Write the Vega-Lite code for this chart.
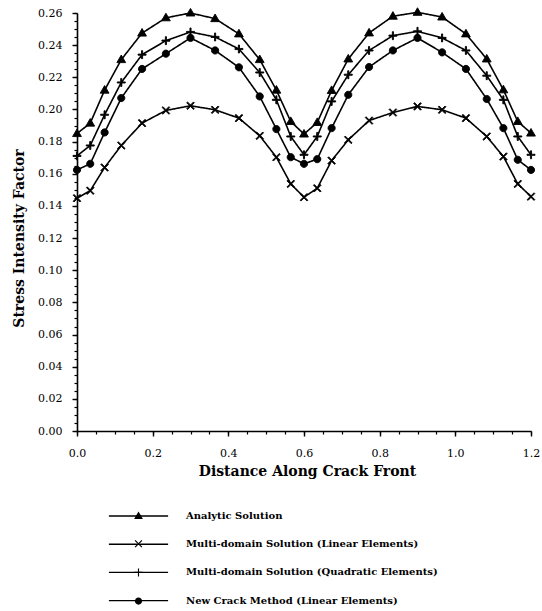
{
  "$schema": "https://vega.github.io/schema/vega-lite/v6.json",
  "autosize": {"type": "none"},
  "padding": {"left": 77, "top": 13, "right": 11, "bottom": 180},
  "width": 454,
  "height": 418,
  "background": "white",
  "config": {
    "view": {"stroke": null},
    "axis": {"grid": false, "domainColor": "black", "tickColor": "black", "labelColor": "black", "titleColor": "black"}
  },
  "data": {"values": [
    {"s": "Analytic Solution", "x": 0, "y": 0.185},
    {"s": "Analytic Solution", "x": 0.035, "y": 0.1915},
    {"s": "Analytic Solution", "x": 0.073, "y": 0.212},
    {"s": "Analytic Solution", "x": 0.117, "y": 0.231},
    {"s": "Analytic Solution", "x": 0.172, "y": 0.2475},
    {"s": "Analytic Solution", "x": 0.235, "y": 0.257},
    {"s": "Analytic Solution", "x": 0.3, "y": 0.26},
    {"s": "Analytic Solution", "x": 0.365, "y": 0.2565},
    {"s": "Analytic Solution", "x": 0.428, "y": 0.247},
    {"s": "Analytic Solution", "x": 0.483, "y": 0.231},
    {"s": "Analytic Solution", "x": 0.527, "y": 0.212},
    {"s": "Analytic Solution", "x": 0.565, "y": 0.1925},
    {"s": "Analytic Solution", "x": 0.6, "y": 0.1847},
    {"s": "Analytic Solution", "x": 0.635, "y": 0.1919},
    {"s": "Analytic Solution", "x": 0.673, "y": 0.2118},
    {"s": "Analytic Solution", "x": 0.717, "y": 0.2314},
    {"s": "Analytic Solution", "x": 0.772, "y": 0.2476},
    {"s": "Analytic Solution", "x": 0.835, "y": 0.258},
    {"s": "Analytic Solution", "x": 0.9, "y": 0.2604},
    {"s": "Analytic Solution", "x": 0.965, "y": 0.2575},
    {"s": "Analytic Solution", "x": 1.028, "y": 0.247},
    {"s": "Analytic Solution", "x": 1.083, "y": 0.2314},
    {"s": "Analytic Solution", "x": 1.127, "y": 0.2122},
    {"s": "Analytic Solution", "x": 1.165, "y": 0.1925},
    {"s": "Analytic Solution", "x": 1.2, "y": 0.1853},
    {"s": "Multi-domain Solution (Linear Elements)", "x": 0, "y": 0.1448},
    {"s": "Multi-domain Solution (Linear Elements)", "x": 0.035, "y": 0.1495},
    {"s": "Multi-domain Solution (Linear Elements)", "x": 0.073, "y": 0.1639},
    {"s": "Multi-domain Solution (Linear Elements)", "x": 0.117, "y": 0.1776},
    {"s": "Multi-domain Solution (Linear Elements)", "x": 0.172, "y": 0.1915},
    {"s": "Multi-domain Solution (Linear Elements)", "x": 0.235, "y": 0.1994},
    {"s": "Multi-domain Solution (Linear Elements)", "x": 0.3, "y": 0.2023},
    {"s": "Multi-domain Solution (Linear Elements)", "x": 0.365, "y": 0.1998},
    {"s": "Multi-domain Solution (Linear Elements)", "x": 0.428, "y": 0.1946},
    {"s": "Multi-domain Solution (Linear Elements)", "x": 0.483, "y": 0.1836},
    {"s": "Multi-domain Solution (Linear Elements)", "x": 0.527, "y": 0.1703},
    {"s": "Multi-domain Solution (Linear Elements)", "x": 0.565, "y": 0.1537},
    {"s": "Multi-domain Solution (Linear Elements)", "x": 0.6, "y": 0.1454},
    {"s": "Multi-domain Solution (Linear Elements)", "x": 0.635, "y": 0.151},
    {"s": "Multi-domain Solution (Linear Elements)", "x": 0.673, "y": 0.1682},
    {"s": "Multi-domain Solution (Linear Elements)", "x": 0.717, "y": 0.1811},
    {"s": "Multi-domain Solution (Linear Elements)", "x": 0.772, "y": 0.1931},
    {"s": "Multi-domain Solution (Linear Elements)", "x": 0.835, "y": 0.1981},
    {"s": "Multi-domain Solution (Linear Elements)", "x": 0.9, "y": 0.2019},
    {"s": "Multi-domain Solution (Linear Elements)", "x": 0.965, "y": 0.1998},
    {"s": "Multi-domain Solution (Linear Elements)", "x": 1.028, "y": 0.1946},
    {"s": "Multi-domain Solution (Linear Elements)", "x": 1.083, "y": 0.1832},
    {"s": "Multi-domain Solution (Linear Elements)", "x": 1.127, "y": 0.1707},
    {"s": "Multi-domain Solution (Linear Elements)", "x": 1.165, "y": 0.1537},
    {"s": "Multi-domain Solution (Linear Elements)", "x": 1.2, "y": 0.1458},
    {"s": "Multi-domain Solution (Quadratic Elements)", "x": 0, "y": 0.1711},
    {"s": "Multi-domain Solution (Quadratic Elements)", "x": 0.035, "y": 0.1776},
    {"s": "Multi-domain Solution (Quadratic Elements)", "x": 0.073, "y": 0.1967},
    {"s": "Multi-domain Solution (Quadratic Elements)", "x": 0.117, "y": 0.2168},
    {"s": "Multi-domain Solution (Quadratic Elements)", "x": 0.172, "y": 0.2341},
    {"s": "Multi-domain Solution (Quadratic Elements)", "x": 0.235, "y": 0.2428},
    {"s": "Multi-domain Solution (Quadratic Elements)", "x": 0.3, "y": 0.2482},
    {"s": "Multi-domain Solution (Quadratic Elements)", "x": 0.365, "y": 0.2451},
    {"s": "Multi-domain Solution (Quadratic Elements)", "x": 0.428, "y": 0.2376},
    {"s": "Multi-domain Solution (Quadratic Elements)", "x": 0.483, "y": 0.223},
    {"s": "Multi-domain Solution (Quadratic Elements)", "x": 0.527, "y": 0.206},
    {"s": "Multi-domain Solution (Quadratic Elements)", "x": 0.565, "y": 0.1832},
    {"s": "Multi-domain Solution (Quadratic Elements)", "x": 0.6, "y": 0.1718},
    {"s": "Multi-domain Solution (Quadratic Elements)", "x": 0.635, "y": 0.1832},
    {"s": "Multi-domain Solution (Quadratic Elements)", "x": 0.673, "y": 0.205},
    {"s": "Multi-domain Solution (Quadratic Elements)", "x": 0.717, "y": 0.2216},
    {"s": "Multi-domain Solution (Quadratic Elements)", "x": 0.772, "y": 0.2367},
    {"s": "Multi-domain Solution (Quadratic Elements)", "x": 0.835, "y": 0.2459},
    {"s": "Multi-domain Solution (Quadratic Elements)", "x": 0.9, "y": 0.2486},
    {"s": "Multi-domain Solution (Quadratic Elements)", "x": 0.965, "y": 0.2445},
    {"s": "Multi-domain Solution (Quadratic Elements)", "x": 1.028, "y": 0.2367},
    {"s": "Multi-domain Solution (Quadratic Elements)", "x": 1.083, "y": 0.221},
    {"s": "Multi-domain Solution (Quadratic Elements)", "x": 1.127, "y": 0.206},
    {"s": "Multi-domain Solution (Quadratic Elements)", "x": 1.165, "y": 0.1832},
    {"s": "Multi-domain Solution (Quadratic Elements)", "x": 1.2, "y": 0.1718},
    {"s": "New Crack Method (Linear Elements)", "x": 0, "y": 0.1624},
    {"s": "New Crack Method (Linear Elements)", "x": 0.035, "y": 0.1662},
    {"s": "New Crack Method (Linear Elements)", "x": 0.073, "y": 0.1857},
    {"s": "New Crack Method (Linear Elements)", "x": 0.117, "y": 0.2071},
    {"s": "New Crack Method (Linear Elements)", "x": 0.172, "y": 0.2252},
    {"s": "New Crack Method (Linear Elements)", "x": 0.235, "y": 0.2347},
    {"s": "New Crack Method (Linear Elements)", "x": 0.3, "y": 0.2445},
    {"s": "New Crack Method (Linear Elements)", "x": 0.365, "y": 0.2367},
    {"s": "New Crack Method (Linear Elements)", "x": 0.428, "y": 0.2262},
    {"s": "New Crack Method (Linear Elements)", "x": 0.483, "y": 0.2081},
    {"s": "New Crack Method (Linear Elements)", "x": 0.527, "y": 0.1878},
    {"s": "New Crack Method (Linear Elements)", "x": 0.565, "y": 0.1703},
    {"s": "New Crack Method (Linear Elements)", "x": 0.6, "y": 0.1662},
    {"s": "New Crack Method (Linear Elements)", "x": 0.635, "y": 0.1691},
    {"s": "New Crack Method (Linear Elements)", "x": 0.673, "y": 0.1884},
    {"s": "New Crack Method (Linear Elements)", "x": 0.717, "y": 0.2091},
    {"s": "New Crack Method (Linear Elements)", "x": 0.772, "y": 0.2264},
    {"s": "New Crack Method (Linear Elements)", "x": 0.835, "y": 0.2367},
    {"s": "New Crack Method (Linear Elements)", "x": 0.9, "y": 0.2445},
    {"s": "New Crack Method (Linear Elements)", "x": 0.965, "y": 0.2355},
    {"s": "New Crack Method (Linear Elements)", "x": 1.028, "y": 0.2252},
    {"s": "New Crack Method (Linear Elements)", "x": 1.083, "y": 0.2065},
    {"s": "New Crack Method (Linear Elements)", "x": 1.127, "y": 0.1884},
    {"s": "New Crack Method (Linear Elements)", "x": 1.165, "y": 0.1687},
    {"s": "New Crack Method (Linear Elements)", "x": 1.2, "y": 0.1624}
  ]},
  "resolve": {"axis": {"x": "independent", "y": "independent"}},
  "layer": [
    {
      "mark": {"type": "line", "color": "black", "strokeWidth": 1.6},
      "encoding": {
        "x": {"field": "x", "type": "quantitative", "scale": {"domain": [0, 1.2], "nice": false},
          "axis": {"orient": "bottom", "values": [0,0.05,0.1,0.15,0.2,0.25,0.3,0.35,0.4,0.45,0.5,0.55,0.6,0.65,0.7,0.75,0.8,0.85,0.9,0.95,1.0,1.05,1.1,1.15,1.2], "labels": false, "domain": false, "tickSize": 3, "tickWidth": 1.2, "title": null}},
        "y": {"field": "y", "type": "quantitative", "scale": {"domain": [0, 0.26], "nice": false},
          "axis": {"orient": "left", "values": [0,0.005,0.01,0.015,0.02,0.025,0.03,0.035,0.04,0.045,0.05,0.055,0.06,0.065,0.07,0.075,0.08,0.085,0.09,0.095,0.1,0.105,0.11,0.115,0.12,0.125,0.13,0.135,0.14,0.145,0.15,0.155,0.16,0.165,0.17,0.175,0.18,0.185,0.19,0.195,0.2,0.205,0.21,0.215,0.22,0.225,0.23,0.235,0.24,0.245,0.25,0.255,0.26], "labels": false, "domain": false, "tickSize": 3, "tickWidth": 1.2, "title": null}},
        "strokeDash": {"field": "s", "type": "nominal",
          "scale": {"range": [[1, 0], [1, 0], [1, 0], [1, 0]]},
          "legend": {
            "orient": "none", "legendX": 56.5, "legendY": 498, "direction": "vertical", "title": null, "padding": 0,
            "symbolType": "M-7.4,0H7.4", "symbolSize": 64, "symbolStrokeColor": "black", "symbolStrokeWidth": 1.4, "symbolOpacity": 1,
            "labelFont": "DejaVu Serif", "labelFontWeight": "bold", "labelFontSize": 10, "labelColor": "black", "labelOffset": 42.5,
            "rowPadding": 18.2, "labelLimit": 400
          }
        }
      }
    },
    {
      "mark": {"type": "point", "filled": false, "color": "black", "fill": "black", "stroke": "black", "strokeWidth": 0.9, "opacity": 1, "fillOpacity": 1, "size": 64},
      "encoding": {
        "x": {"field": "x", "type": "quantitative", "scale": {"domain": [0, 1.2], "nice": false},
          "axis": {"orient": "bottom", "values": [0, 0.2, 0.4, 0.6, 0.8, 1.0, 1.2], "format": ".1f", "labelFlush": false, "labelOverlap": false,
            "domainWidth": 1.6, "tickSize": 5, "tickWidth": 1.4, "labelPadding": 11, "labelFont": "DejaVu Serif", "labelFontSize": 11,
            "title": "Distance Along Crack Front", "titleFont": "DejaVu Serif", "titleFontWeight": "bold", "titleFontSize": 14,
            "titleX": 230, "titleY": 44, "titleBaseline": "alphabetic", "titleAlign": "center"}},
        "y": {"field": "y", "type": "quantitative", "scale": {"domain": [0, 0.26], "nice": false},
          "axis": {"orient": "left", "values": [0,0.02,0.04,0.06,0.08,0.1,0.12,0.14,0.16,0.18,0.2,0.22,0.24,0.26], "format": ".2f", "labelOverlap": false, "labelFlush": false,
            "domainWidth": 1.6, "tickSize": 5, "tickWidth": 1.4, "labelPadding": 10, "labelFont": "DejaVu Serif", "labelFontSize": 11,
            "title": "Stress Intensity Factor", "titleFont": "DejaVu Serif", "titleFontWeight": "bold", "titleFontSize": 14,
            "titleX": -58, "titleY": 225, "titleAngle": 270, "titleBaseline": "middle", "titleAlign": "center"}},
        "shape": {"field": "s", "type": "nominal",
          "scale": {
            "domain": ["Analytic Solution", "Multi-domain Solution (Linear Elements)", "Multi-domain Solution (Quadratic Elements)", "New Crack Method (Linear Elements)"],
            "range": [
              "M0,-1.15L1.1,0.75L-1.1,0.75Z",
              "M0,-0.2L0.75,-0.95L0.95,-0.75L0.2,0L0.95,0.75L0.75,0.95L0,0.2L-0.75,0.95L-0.95,0.75L-0.2,0L-0.95,-0.75L-0.75,-0.95Z",
              "M-1,-0.14H-0.14V-1H0.14V-0.14H1V0.14H0.14V1H-0.14V0.14H-1Z",
              "M-0.9,0A0.9,0.9,0,1,0,0.9,0A0.9,0.9,0,1,0,-0.9,0Z"
            ]
          },
          "legend": {
            "orient": "none", "legendX": 56.5, "legendY": 498, "direction": "vertical", "title": null, "padding": 0,
            "symbolSize": 64, "symbolFillColor": "black", "symbolStrokeColor": "black", "symbolStrokeWidth": 0.9, "symbolOpacity": 1,
            "labelFont": "DejaVu Serif", "labelFontWeight": "bold", "labelFontSize": 10, "labelExpr": "''", "labelOffset": 42.5,
            "rowPadding": 16.7, "labelLimit": 400
          }
        }
      }
    }
  ]
}
